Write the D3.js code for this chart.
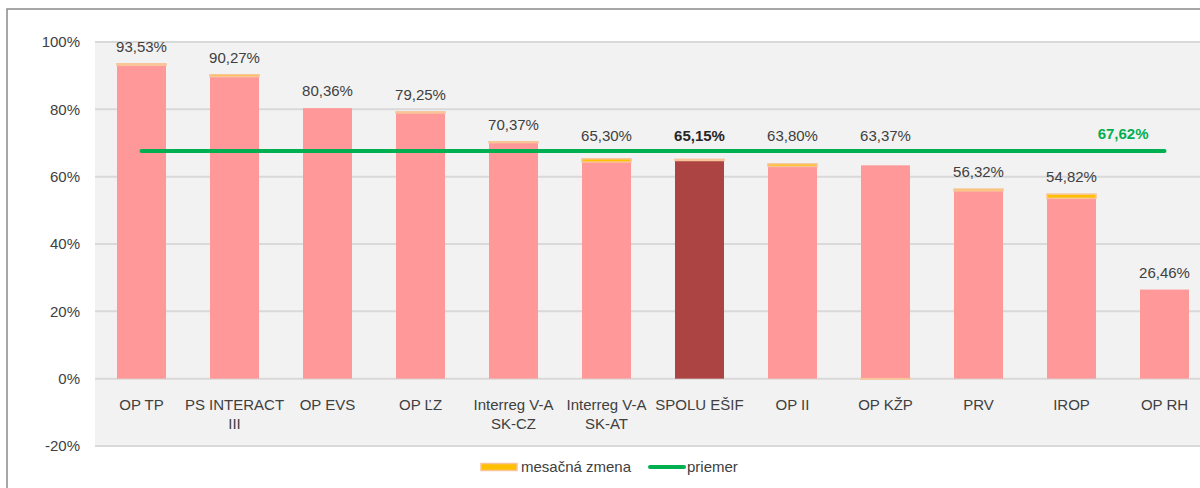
<!DOCTYPE html>
<html><head><meta charset="utf-8">
<script src="https://cdn.jsdelivr.net/npm/d3@7/dist/d3.min.js"></script>
<style>body{margin:0;background:#fff;}svg{display:block;font-family:"Liberation Sans",Arial,sans-serif;}</style>
</head><body>
<svg id="c" width="1200" height="488"></svg>
<script>
const categories = ["OP TP","PS INTERACT\nIII","OP EVS","OP ĽZ","Interreg V-A\nSK-CZ","Interreg V-A\nSK-AT","SPOLU EŠIF","OP II","OP KŽP","PRV","IROP","OP RH"];
const totals = [93.53,90.27,80.36,79.25,70.37,65.30,65.15,63.80,63.37,56.32,54.82,26.46];
const monthlyChange = [0.45,0.56,0,0.35,0.25,0.95,0.35,0.75,-0.1,0.55,1.25,0];
const average = 67.62;
const highlight = "SPOLU EŠIF";
const yTicks = [-20,0,20,40,60,80,100];
const legendLabels = ["mesačná zmena","priemer"];

(function(){
const svg = d3.select("#c");
const pL = 95, pR = 1211, pT = 42, pB = 446;
const x = d3.scaleBand().domain(categories).range([pL,pR]).paddingInner(0.473).paddingOuter(0.2365);
const y = d3.scaleLinear().domain([-20,100]).range([pB,pT]);
const loc = d3.formatLocale({decimal:",",thousands:" ",grouping:[3],currency:["","€"]});
const fmt = v => loc.format(".2f")(v) + "%";

// outer frame
svg.append("rect").attr("x",7).attr("y",9).attr("width",1210).attr("height",500)
  .attr("fill","#fff").attr("stroke","#8a8a8a").attr("stroke-width",1.5);
// plot background
svg.append("rect").attr("x",pL).attr("y",pT).attr("width",pR-pL).attr("height",pB-pT).attr("fill","#f2f2f2");
// gridlines
svg.append("g").selectAll("line").data(yTicks).join("line")
  .attr("x1",pL).attr("x2",pR).attr("y1",d=>y(d)).attr("y2",d=>y(d))
  .attr("stroke","#d9d9d9").attr("stroke-width",2);
// y axis labels
const yAxis = svg.append("g").attr("transform",`translate(${pL-15},0)`)
  .call(d3.axisLeft(y).tickValues(yTicks).tickSize(0).tickPadding(0).tickFormat(d=>d+"%"));
yAxis.select(".domain").remove();
yAxis.selectAll("text").attr("font-size",15).attr("fill","#404040").attr("font-family","Liberation Sans, Arial, sans-serif");

// bars
const data = categories.map((c,i)=>({c, total:totals[i], ch:monthlyChange[i], base: totals[i]-Math.max(monthlyChange[i],0)}));
svg.append("g").selectAll("rect").data(data).join("rect")
  .attr("x",d=>x(d.c)).attr("width",x.bandwidth())
  .attr("y",d=>y(d.base)).attr("height",d=>y(0)-y(d.base))
  .attr("fill",d=>d.c===highlight?"#ab4442":"#ff9999");
// monthly change segments
svg.append("g").selectAll("rect").data(data.filter(d=>d.ch!==0)).join("rect")
  .attr("x",d=>x(d.c)).attr("width",x.bandwidth())
  .attr("y",d=>d.ch>0?y(d.total):y(0))
  .attr("height",d=>Math.abs(y(0)-y(Math.abs(d.ch))))
  .attr("fill","#ffc000").attr("stroke","#f8c49a").attr("stroke-width",1.5);

// category labels
const cat = svg.append("g").selectAll("text").data(categories).join("text")
  .attr("text-anchor","middle").attr("font-size",15).attr("fill","#404040")
  .attr("transform",d=>`translate(${x(d)+x.bandwidth()/2},${y(0)+31})`);
cat.each(function(d){
  d.split("\n").forEach((t,k)=>d3.select(this).append("tspan").attr("x",0).attr("y",k*19.5).text(t));
});

// value labels (pushed above the average line when they would collide with it)
const avgY = y(average);
const labelY = d => {
  let b = y(d.total) - 12;
  if (b > avgY - 10 && b - 12 < avgY + 3) b = avgY - 10;
  return b;
};
svg.append("g").selectAll("text").data(data).join("text")
  .attr("x",d=>x(d.c)+x.bandwidth()/2).attr("y",labelY)
  .attr("text-anchor","middle").attr("font-size",15)
  .attr("font-weight",d=>d.c===highlight?"bold":"normal")
  .attr("fill",d=>d.c===highlight?"#262626":"#404040")
  .text(d=>fmt(d.total));

// average line
const x0 = x(categories[0])+x.bandwidth()/2, x1 = x(categories[categories.length-1])+x.bandwidth()/2;
svg.append("line").attr("x1",x0).attr("x2",x1).attr("y1",avgY).attr("y2",avgY)
  .attr("stroke","#00b050").attr("stroke-width",4).attr("stroke-linecap","round");
svg.append("text").attr("x",x1-16).attr("y",avgY-12).attr("text-anchor","end")
  .attr("font-size",15).attr("font-weight","bold").attr("fill","#00b050").text(fmt(average));

// legend
const lg = svg.append("g").attr("transform","translate(0,467)");
lg.append("rect").attr("x",481).attr("y",-3.5).attr("width",36).attr("height",7)
  .attr("fill","#ffc000").attr("stroke","#f8c49a").attr("stroke-width",1.5);
lg.append("text").attr("x",521).attr("y",5).attr("font-size",15).attr("fill","#404040").text(legendLabels[0]);
lg.append("line").attr("x1",650).attr("x2",684).attr("y1",0).attr("y2",0)
  .attr("stroke","#00b050").attr("stroke-width",4).attr("stroke-linecap","round");
lg.append("text").attr("x",687).attr("y",5).attr("font-size",15).attr("fill","#404040").text(legendLabels[1]);
})();
</script>
</body></html>
